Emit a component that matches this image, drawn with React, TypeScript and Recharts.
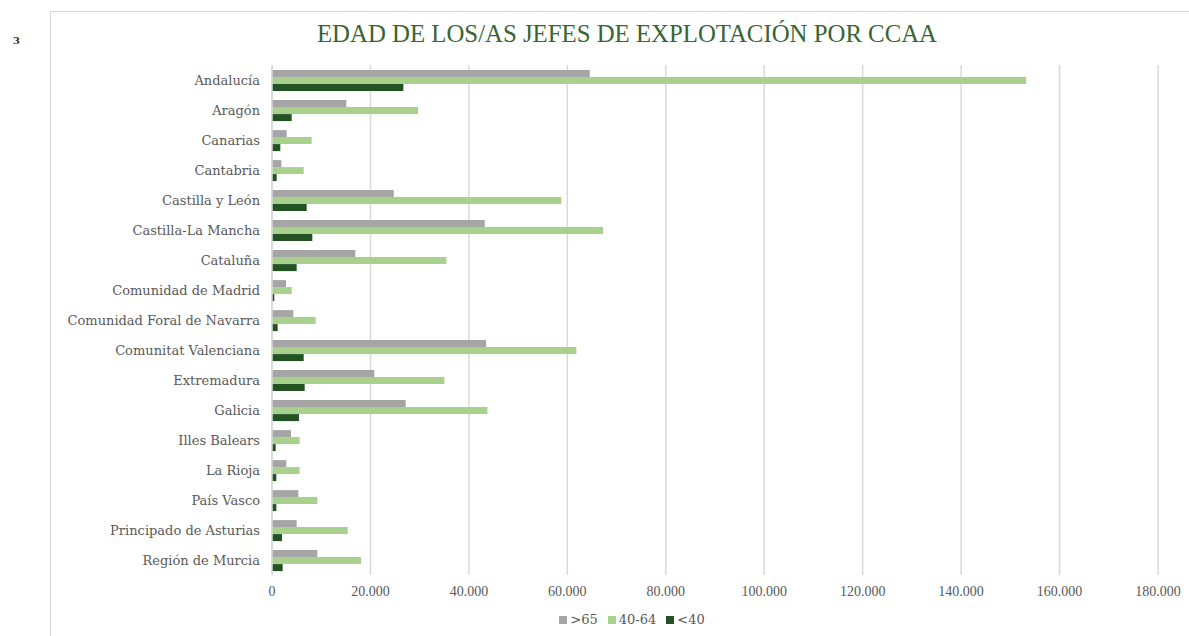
import React from 'react';
import { BarChart, Bar, XAxis, YAxis, CartesianGrid } from 'recharts';

const categories = [
  'Andalucía', 'Aragón', 'Canarias', 'Cantabria', 'Castilla y León', 'Castilla-La Mancha',
  'Cataluña', 'Comunidad de Madrid', 'Comunidad Foral de Navarra', 'Comunitat Valenciana',
  'Extremadura', 'Galicia', 'Illes Balears', 'La Rioja', 'País Vasco',
  'Principado de Asturias', 'Región de Murcia',
];
const over65 = [64550, 15100, 2980, 1900, 24730, 43220, 16930, 2840, 4330, 43490, 20790, 27160, 3860, 2910, 5350, 5010, 9210];
const mid4064 = [153200, 29670, 8060, 6440, 58790, 67260, 35420, 4000, 8880, 61840, 35020, 43760, 5620, 5620, 9210, 15380, 18090];
const under40 = [26690, 4000, 1690, 950, 7050, 8190, 5010, 470, 1150, 6440, 6640, 5490, 750, 880, 880, 2030, 2170];
const xTicks = [0, 20000, 40000, 60000, 80000, 100000, 120000, 140000, 160000, 180000];
const seriesNames = ['>65', '40-64', '<40'];
const seriesColors = ['#a5a5a5', '#a9d18e', '#235223'];

const data = categories.map((c, i) => ({ name: c, a: over65[i], b: mid4064[i], c: under40[i] }));

const fmtThousands = (v: number) => String(v).replace(/\B(?=(\d{3})+(?!\d))/g, '.');

const titleFont = "'Liberation Serif', 'Times New Roman', Times, serif";
const labelFont = "'DejaVu Serif', serif";

export default function App() {
  return (
    <div style={{ position: 'absolute', left: 0, top: 0, width: 1189, height: 636, background: '#fff', overflow: 'hidden' }}>
      <div style={{ position: 'absolute', left: 50, top: 11, width: 1200, height: 700, borderLeft: '1px solid #d9d9d9', borderTop: '1px solid #d9d9d9' }} />
      <div style={{ position: 'absolute', left: 13, top: 35, fontFamily: labelFont, fontSize: 10, fontWeight: 'bold', color: '#333' }}>3</div>
      <div style={{ position: 'absolute', left: 0, width: 1254, top: 20, textAlign: 'center', fontFamily: titleFont, fontSize: 24.8, color: '#386531', whiteSpace: 'nowrap' }}>
        EDAD DE LOS/AS JEFES DE EXPLOTACIÓN POR CCAA
      </div>
      <div style={{ position: 'absolute', left: 0, top: 0 }}>
        <BarChart
          width={1189}
          height={636}
          layout="vertical"
          data={data}
          margin={{ top: 65, right: 31, bottom: 31, left: 0 }}
          barCategoryGap="17%"
          barGap={0}
        >
          <CartesianGrid horizontal={false} stroke="#d9d9d9" strokeWidth={1.5} />
          <XAxis
            type="number"
            domain={[0, 180000]}
            ticks={xTicks}
            interval={0}
            tickFormatter={(v: number) => fmtThousands(v)}
            axisLine={false}
            tickLine={false}
            tickMargin={5}
            height={30}
            tick={{ fontFamily: titleFont, fontSize: 14, fill: '#595959' }}
          />
          <YAxis
            type="category"
            dataKey="name"
            width={272}
            interval={0}
            tickLine={false}
            tickSize={0}
            tickMargin={12}
            axisLine={{ stroke: '#d9d9d9', strokeWidth: 1.5 }}
            tick={{ fontFamily: labelFont, fontSize: 13, fill: '#595959' }}
          />
          <Bar dataKey="a" name={seriesNames[0]} fill={seriesColors[0]} isAnimationActive={false} />
          <Bar dataKey="b" name={seriesNames[1]} fill={seriesColors[1]} isAnimationActive={false} />
          <Bar dataKey="c" name={seriesNames[2]} fill={seriesColors[2]} isAnimationActive={false} />
        </BarChart>
      </div>
      <div style={{ position: 'absolute', left: 6, width: 1262, top: 612, display: 'flex', justifyContent: 'center', fontFamily: labelFont, fontSize: 13, color: '#595959' }}>
        {seriesNames.map((n, i) => (
          <div key={n} style={{ display: 'flex', alignItems: 'center', marginRight: 10 }}>
            <span style={{ display: 'inline-block', width: 8, height: 8, background: seriesColors[i], marginRight: 3 }} />
            <span>{n}</span>
          </div>
        ))}
      </div>
    </div>
  );
}
